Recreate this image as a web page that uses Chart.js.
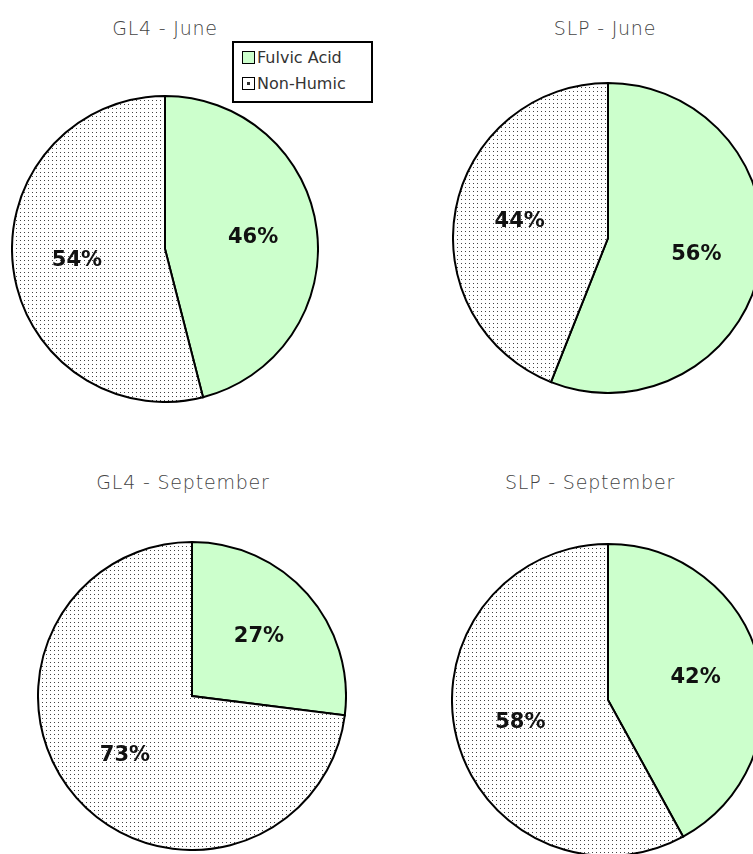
<!DOCTYPE html>
<html>
<head>
<meta charset="utf-8">
<script src="https://cdn.jsdelivr.net/npm/chart.js@4.4.1/dist/chart.umd.min.js"></script>
<style>
  html, body { margin: 0; padding: 0; background: #fff; width: 753px; height: 854px; overflow: hidden; position: relative; }
  .title { position: absolute; transform: translate(-50%, -50%); font-family: "DejaVu Sans", sans-serif; font-weight: 300; font-size: 19px; letter-spacing: 0.8px; color: #444; white-space: nowrap; }
  .pie { position: absolute; }
  #legend { position: absolute; left: 232px; top: 41px; width: 137px; height: 58px; border: 2px solid #000; background: #fff; font-family: "DejaVu Sans", sans-serif; font-weight: 400; font-size: 16px; letter-spacing: 0px; color: #333; }
  .item { position: absolute; left: 8px; display: flex; align-items: center; }
  .sw { width: 11px; height: 11px; border: 1px solid #000; margin-right: 2px; position: relative; }
  .sw.dot::after { content: ""; position: absolute; left: 4px; top: 4px; width: 3px; height: 3px; background: #333; }
</style>
</head>
<body>
<div class="title" style="left:165px; top:28px">GL4 - June</div>
<div class="title" style="left:605px; top:28px">SLP - June</div>
<div class="title" style="left:183px; top:482px">GL4 - September</div>
<div class="title" style="left:590px; top:482px">SLP - September</div>

<canvas id="c1" class="pie"></canvas>
<canvas id="c2" class="pie"></canvas>
<canvas id="c3" class="pie"></canvas>
<canvas id="c4" class="pie"></canvas>

<div id="legend">
  <div class="item" style="top:5px"><span class="sw" style="background:#ccffcc"></span><span id="lg0"></span></div>
  <div class="item" style="top:31px"><span class="sw dot" style="background:#fff"></span><span id="lg1"></span></div>
</div>

<script>
// ---- data ----
const categories = ['Fulvic Acid', 'Non-Humic'];
const chartTitles = ['GL4 - June', 'SLP - June', 'GL4 - September', 'SLP - September'];
const gl4June = [46, 54];
const slpJune = [56, 44];
const gl4Sep = [27, 73];
const slpSep = [42, 58];

document.getElementById('lg0').textContent = categories[0];
document.getElementById('lg1').textContent = categories[1];

// dotted pattern
function makePattern() {
  const p = document.createElement('canvas');
  p.width = 4; p.height = 4;
  const g = p.getContext('2d');
  g.fillStyle = '#fff';
  g.fillRect(0, 0, 4, 4);
  g.fillStyle = '#444';
  g.fillRect(1, 1, 1, 1);
  return g.createPattern(p, 'repeat');
}

const pctLabels = {
  id: 'pctLabels',
  afterDatasetsDraw(chart, args, opts) {
    const ctx = chart.ctx;
    const meta = chart.getDatasetMeta(0);
    const ds = chart.data.datasets[0];
    ctx.save();
    ctx.font = 'bold 21px "DejaVu Sans", sans-serif';
    ctx.fillStyle = '#111';
    ctx.textAlign = 'center';
    ctx.textBaseline = 'middle';
    meta.data.forEach((arc, i) => {
      const p = arc.getProps(['x', 'y', 'startAngle', 'endAngle', 'outerRadius'], true);
      const mid = (p.startAngle + p.endAngle) / 2;
      const r = p.outerRadius * (opts.frac || 0.55);
      ctx.fillText(ds.data[i] + '%', p.x + Math.cos(mid) * r, p.y + Math.sin(mid) * r);
    });
    ctx.restore();
  }
};

const layouts = [
  { id: 'c1', data: gl4June, cx: 165, cy: 249, r: 153 },
  { id: 'c2', data: slpJune, cx: 608, cy: 238, r: 155 },
  { id: 'c3', data: gl4Sep, cx: 192, cy: 696, r: 154 },
  { id: 'c4', data: slpSep, cx: 608, cy: 700, r: 156 }
];

const bw = 2;
layouts.forEach((L) => {
  const cv = document.getElementById(L.id);
  const S = 2 * L.r + bw;
  cv.width = S; cv.height = S;
  cv.style.width = S + 'px'; cv.style.height = S + 'px';
  cv.style.left = (L.cx - S / 2) + 'px';
  cv.style.top = (L.cy - S / 2) + 'px';
  const pattern = makePattern();
  new Chart(cv, {
    type: 'pie',
    data: {
      labels: categories,
      datasets: [{
        data: L.data,
        backgroundColor: ['#ccffcc', pattern],
        borderColor: '#000',
        borderWidth: bw,
        hoverOffset: 0,
        borderJoinStyle: 'miter'
      }]
    },
    options: {
      responsive: false,
      animation: false,
      devicePixelRatio: 1,
      layout: { padding: 0 },
      plugins: {
        legend: { display: false },
        tooltip: { enabled: false },
        title: { display: false },
        pctLabels: { frac: 0.58 }
      }
    },
    plugins: [pctLabels]
  });
});
</script>
</body>
</html>
